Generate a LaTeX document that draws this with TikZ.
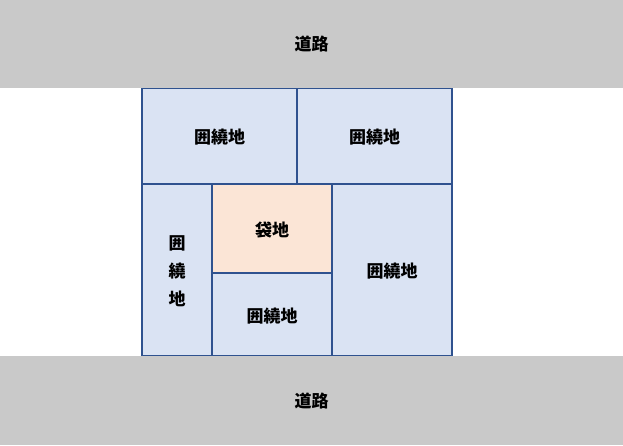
\documentclass[tikz,border=0pt]{standalone}
\usepackage{fontspec}
\setmainfont{Noto Sans CJK JP}
\usetikzlibrary{positioning}

\definecolor{roadgray}{HTML}{C9C9C9}
\definecolor{lotblue}{HTML}{DAE3F3}
\definecolor{lotline}{HTML}{2F528F}
\definecolor{bagpeach}{HTML}{FBE5D6}

\tikzset{
  road/.style={rectangle, fill=roadgray, inner sep=0pt, font=\fontsize{17}{20}\selectfont\bfseries},
  lot/.style={rectangle, draw=lotline, line width=1.2pt, fill=lotblue, inner sep=0pt},
  bag/.style={lot, fill=bagpeach},
  lottext/.style={yshift=-1.5pt, inner sep=0pt, align=center,
                  font=\fontsize{17}{28}\selectfont\bfseries}
}

\begin{document}
\begin{tikzpicture}[x=1pt, y=-1pt]
        \useasboundingbox (0, 0) rectangle (623, 445);
        % surrounding lots
        \node[lot, minimum width=155pt, minimum height=96pt,
              label={[lottext]center:囲繞地}] (nwlot) at (219.5, 136) {};
        \node[lot, minimum width=155pt, minimum height=96pt,
              label={[lottext]center:囲繞地}] (nelot) at (374.5, 136) {};
        \node[lot, minimum width=70pt, minimum height=172pt,
              label={[lottext]center:囲\\繞\\地}] (westlot) at (177, 270) {};
        \node[lot, minimum width=120pt, minimum height=172pt,
              label={[lottext]center:囲繞地}] (eastlot) at (392, 270) {};
        \node[lot, minimum width=120pt, minimum height=83pt,
              label={[lottext]center:囲繞地}] (southlot) at (272, 314.5) {};
        % landlocked lot
        \node[bag, minimum width=120pt, minimum height=89pt,
              label={[lottext]center:袋地}] (baglot) at (272, 228.5) {};
        % roads
        \node[road, minimum width=623pt, minimum height=88pt] (northroad) at (311.5, 44) {道路};
        \node[road, minimum width=623pt, minimum height=89pt] (southroad) at (311.5, 400.5) {道路};
\end{tikzpicture}
\end{document}
